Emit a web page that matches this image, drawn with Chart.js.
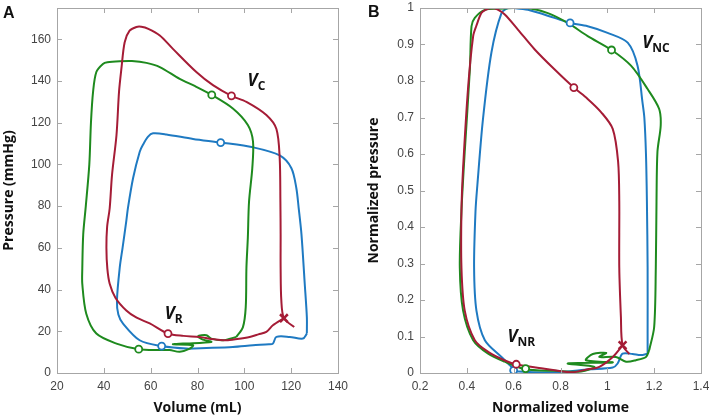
<!DOCTYPE html>
<html>
<head>
<meta charset="utf-8">
<script src="https://cdn.jsdelivr.net/npm/chart.js@4.4.1/dist/chart.umd.min.js"></script>
<style>
  body { margin: 0; background: #fff; }
  #wrap { position: relative; width: 709px; height: 418px; overflow: hidden; }
  canvas { position: absolute; top: 0; }
</style>
</head>
<body>
<div id="wrap">
  <canvas id="chartA" width="355" height="418" style="left:0"></canvas>
  <canvas id="chartB" width="354" height="418" style="left:355px"></canvas>
</div>
<script>
// ---- panel A: pressure (mmHg) vs volume (mL)
const xTicksA = [20, 40, 60, 80, 100, 120, 140];
const yTicksA = [0, 20, 40, 60, 80, 100, 120, 140, 160];

const redVolA = [121.3, 116.9, 115.8, 115.5, 115.5, 115.4, 115.1, 113.7, 109.4, 100.9, 94.5, 86.6, 79.5, 69.5, 63.9, 59, 56, 53.9, 51, 48.9, 47.5, 46.5, 45.4, 43.5, 42.5, 41.4, 41.1, 41.5, 42.5, 45, 49.6, 54, 59.6, 67.4, 74, 80.9, 86, 92.3, 97, 102.3, 106, 109.4, 112.2, 116.9];
const redPresA = [22, 26.3, 34.8, 50, 66.5, 82, 103, 117, 123.7, 130, 132.9, 138, 144.3, 155.4, 161.8, 165, 166, 165.9, 164.1, 158.6, 145.9, 135, 114, 95, 79, 70, 60, 50, 42.8, 36, 30, 26.5, 23.8, 18.9, 17.8, 17.3, 16.3, 15.7, 16.3, 17.3, 18.5, 19.7, 22.9, 26.3];

const greenVolA = [96.6, 99.4, 100.6, 100.9, 101.5, 102, 103.4, 103.7, 101.5, 95.1, 86.1, 79, 72.4, 63.9, 58.2, 52, 46.8, 41.5, 39.6, 36.8, 35.4, 34.5, 33.8, 32.3, 31.2, 30.8, 30.8, 32.5, 36.8, 45.4, 54.9, 63.9, 68.1, 72.4, 76.7, 78.1, 69.5, 73.8, 85.9, 82.3, 80.2, 83.8, 85.9, 90.9, 96.6];
const greenPresA = [17.3, 22, 31.6, 50.6, 65, 82, 98.2, 111, 118.9, 126.8, 133.3, 137.5, 141, 146.7, 148.7, 149.6, 149.5, 149, 148.2, 144.3, 134.8, 120, 100, 80, 66.5, 50, 42.7, 28.4, 18.9, 14.1, 11.4, 11, 11, 10.2, 11.7, 13.3, 13.8, 14.1, 14.9, 16, 17.6, 18.1, 16.5, 15.7, 17.3];

const blueVolA = [126.7, 126.7, 125.8, 124.4, 123.2, 122.2, 120.1, 115.1, 103.7, 89.9, 78.1, 66.7, 61, 58.9, 56.7, 55.3, 52.5, 50.3, 49.6, 48, 46.8, 45.6, 46.2, 48.2, 55.3, 64.7, 75.3, 83.8, 95.1, 103.7, 110.5, 112.2, 113.7, 119.4, 125, 126.7];
const bluePresA = [18.9, 26.8, 42.7, 66.5, 79.2, 88.7, 98.2, 104.3, 108.2, 110.5, 112.2, 114.4, 114.9, 113.3, 109.4, 106, 93.5, 79.2, 72.9, 60, 50.6, 34.8, 28, 23.7, 15.7, 12.9, 11.7, 12, 12.5, 13.3, 13.8, 14.1, 17.3, 17.3, 16.5, 18.9];

const circlesA = {
  red: [[67.4, 18.9], [94.5, 132.9]],
  green: [[86.1, 133.3], [54.9, 11.4]],
  blue: [[89.9, 110.5], [64.7, 12.9]]
};
const crossA = [[116.9, 26.3]];

// ---- panel B: normalized pressure vs normalized volume
const xTicksB = [0.2, 0.4, 0.6, 0.8, 1, 1.2, 1.4];
const yTicksB = [0, 0.1, 0.2, 0.3, 0.4, 0.5, 0.6, 0.7, 0.8, 0.9, 1];

const redVolB = [1.094, 1.065, 1.058, 1.051, 1.051, 1.046, 1.023, 0.973, 0.916, 0.857, 0.774, 0.689, 0.618, 0.562, 0.530, 0.505, 0.48, 0.462, 0.440, 0.427, 0.406, 0.384, 0.377, 0.377, 0.391, 0.434, 0.491, 0.560, 0.609, 0.718, 0.845, 0.916, 0.966, 1.023, 1.065];
const redPresB = [0.052, 0.076, 0.153, 0.289, 0.47, 0.579, 0.669, 0.715, 0.751, 0.782, 0.832, 0.887, 0.941, 0.982, 0.996, 1.0, 0.995, 0.986, 0.95, 0.923, 0.787, 0.561, 0.443, 0.289, 0.171, 0.090, 0.058, 0.035, 0.024, 0.013, 0.002, 0.010, 0.017, 0.044, 0.076];

const greenVolB = [1.179, 1.2, 1.207, 1.21, 1.214, 1.228, 1.221, 1.172, 1.101, 1.018, 0.916, 0.831, 0.746, 0.661, 0.60, 0.54, 0.477, 0.434, 0.420, 0.413, 0.391, 0.377, 0.370, 0.384, 0.427, 0.491, 0.562, 0.650, 0.774, 0.888, 0.945, 0.831, 1.023, 0.909, 0.938, 0.995, 0.966, 1.037, 1.080, 1.122, 1.165, 1.179];
const greenPresB = [0.063, 0.126, 0.289, 0.47, 0.606, 0.679, 0.724, 0.778, 0.842, 0.885, 0.923, 0.959, 0.986, 1.0, 1.0, 0.998, 0.995, 0.973, 0.950, 0.832, 0.606, 0.443, 0.289, 0.171, 0.090, 0.053, 0.031, 0.010, 0.006, 0.004, 0.017, 0.026, 0.029, 0.035, 0.052, 0.055, 0.044, 0.044, 0.031, 0.035, 0.044, 0.063];

const blueVolB = [1.172, 1.172, 1.172, 1.169, 1.165, 1.158, 1.150, 1.129, 1.087, 1.001, 0.916, 0.841, 0.774, 0.661, 0.60, 0.576, 0.548, 0.505, 0.469, 0.445, 0.437, 0.431, 0.441, 0.477, 0.548, 0.590, 0.600, 0.62, 0.774, 0.923, 1.023, 1.044, 1.065, 1.108, 1.143, 1.172];
const bluePresB = [0.053, 0.108, 0.289, 0.47, 0.60, 0.70, 0.742, 0.842, 0.905, 0.932, 0.950, 0.959, 0.973, 0.995, 1.0, 1.0, 0.986, 0.878, 0.696, 0.515, 0.443, 0.289, 0.171, 0.090, 0.044, 0.017, 0.008, 0.004, 0.002, 0.010, 0.015, 0.026, 0.053, 0.052, 0.049, 0.053];

const circlesB = {
  red: [[0.857, 0.782], [0.611, 0.024]],
  green: [[1.018, 0.885], [0.651, 0.012]],
  blue: [[0.841, 0.959], [0.600, 0.007]]
};
const crossB = [[1.065, 0.076]];

const RED = "#a51c36", GREEN = "#1e8a1e", BLUE = "#1f7ac2";
const BOX = "#a6a6a6";

const pts = (xs, ys) => xs.map((x, i) => ({ x: x, y: ys[i] }));
const pairPts = (arr) => arr.map((p) => ({ x: p[0], y: p[1] }));

function loop(xs, ys, color, order) {
  return {
    data: pts(xs, ys), showLine: true, borderColor: color, borderWidth: 2,
    pointRadius: 0, tension: 0.3, order: order
  };
}
function markers(arr, color, style) {
  return {
    data: pairPts(arr), showLine: false, pointStyle: style || "circle",
    pointRadius: style ? 5.5 : 3.5, borderColor: color,
    backgroundColor: "#fff", pointBorderWidth: style ? 2.5 : 1.8, order: 0
  };
}

// box round the plot area with inward tick marks on all four sides
const boxTicks = {
  id: "boxTicks",
  afterDraw(chart) {
    const { ctx, chartArea: a, scales } = chart;
    ctx.save();
    ctx.strokeStyle = BOX;
    ctx.lineWidth = 1;
    ctx.strokeRect(a.left + 0.5, a.top + 0.5, a.right - a.left, a.bottom - a.top);
    scales.x.ticks.forEach((t) => {
      const px = Math.round(scales.x.getPixelForValue(t.value)) + 0.5;
      ctx.beginPath();
      ctx.moveTo(px, a.bottom); ctx.lineTo(px, a.bottom - 5);
      ctx.moveTo(px, a.top); ctx.lineTo(px, a.top + 5);
      ctx.stroke();
    });
    scales.y.ticks.forEach((t) => {
      const py = Math.round(scales.y.getPixelForValue(t.value)) + 0.5;
      ctx.beginPath();
      ctx.moveTo(a.left, py); ctx.lineTo(a.left + 5, py);
      ctx.moveTo(a.right, py); ctx.lineTo(a.right - 5, py);
      ctx.stroke();
    });
    ctx.restore();
  }
};

// V labels with subscripts and the panel letter
const notes = {
  id: "notes",
  afterDraw(chart, args, opts) {
    const { ctx, scales } = chart;
    ctx.save();
    ctx.fillStyle = "#111";
    ctx.textBaseline = "alphabetic";
    opts.labels.forEach((l) => {
      const px = scales.x.getPixelForValue(l.x);
      const py = scales.y.getPixelForValue(l.y);
      ctx.font = 'italic bold 17px "Open Sans"';
      ctx.fillText("V", px, py);
      const w = ctx.measureText("V").width;
      ctx.font = 'bold 12px "Open Sans"';
      ctx.fillText(l.sub, px + w, py + 4);
    });
    ctx.font = 'bold 16px "Liberation Sans"';
    ctx.fillText(opts.letter, opts.lx, opts.ly);
    ctx.restore();
  }
};

function makeChart(id, cfg) {
  return new Chart(document.getElementById(id), {
    type: "scatter",
    data: { datasets: cfg.datasets },
    options: {
      responsive: false,
      animation: false,
      layout: { padding: { top: 5, right: cfg.padRight, left: 0, bottom: 0 } },
      plugins: {
        legend: { display: false },
        tooltip: { enabled: false },
        notes: { labels: cfg.labels, letter: cfg.letter, lx: cfg.lx, ly: cfg.ly }
      },
      scales: {
        x: {
          type: "linear", min: cfg.xMin, max: cfg.xMax,
          grid: { display: false, drawTicks: false },
          border: { display: false },
          afterBuildTicks: (s) => { s.ticks = cfg.xTicks.map((v) => ({ value: v })); },
          afterFit: (s) => { s.height = 45; s.paddingLeft = 0; s.paddingRight = 0; },
          ticks: { padding: 6, color: "#444", font: { family: "Liberation Sans", size: 12 }, maxRotation: 0,
                   callback: (v) => String(v) },
          title: { display: true, text: cfg.xTitle, color: "#111", padding: { top: 0, bottom: 2 },
                   font: { family: "Open Sans", size: 14, weight: "bold" } }
        },
        y: {
          type: "linear", min: cfg.yMin, max: cfg.yMax,
          grid: { display: false, drawTicks: false },
          border: { display: false },
          afterBuildTicks: (s) => { s.ticks = cfg.yTicks.map((v) => ({ value: v })); },
          afterFit: (s) => { s.width = cfg.yWidth; s.paddingTop = 0; s.paddingBottom = 0; },
          ticks: { padding: 6, color: "#444", font: { family: "Liberation Sans", size: 12 },
                   callback: (v) => String(v) },
          title: { display: true, text: cfg.yTitle, color: "#111", padding: { top: cfg.yTitlePad, bottom: 0 },
                   font: { family: "Open Sans", size: 14, weight: "bold" } }
        }
      }
    },
    plugins: [boxTicks, notes]
  });
}

makeChart("chartA", {
  datasets: [
    markers(crossA, RED, "crossRot"),
    markers(circlesA.red, RED), markers(circlesA.green, GREEN), markers(circlesA.blue, BLUE),
    loop(redVolA, redPresA, RED, 1),
    loop(greenVolA, greenPresA, GREEN, 2),
    loop(blueVolA, bluePresA, BLUE, 3)
  ],
  xMin: 20, xMax: 140, yMin: 0, yMax: 175, xTicks: xTicksA, yTicks: yTicksA,
  xTitle: "Volume (mL)", yTitle: "Pressure (mmHg)", yWidth: 57, yTitlePad: 1, padRight: 17,
  labels: [{ x: 101.4, y: 137.6, sub: "C" }, { x: 66, y: 26, sub: "R" }],
  letter: "A", lx: 3, ly: 18
});

makeChart("chartB", {
  datasets: [
    markers(crossB, RED, "crossRot"),
    markers(circlesB.red, RED), markers(circlesB.green, GREEN), markers(circlesB.blue, BLUE),
    loop(redVolB, redPresB, RED, 1),
    loop(greenVolB, greenPresB, GREEN, 2),
    loop(blueVolB, bluePresB, BLUE, 3)
  ],
  xMin: 0.2, xMax: 1.4, yMin: 0, yMax: 1, xTicks: xTicksB, yTicks: yTicksB,
  xTitle: "Normalized volume", yTitle: "Normalized pressure", yWidth: 65, yTitlePad: 11, padRight: 7,
  labels: [{ x: 1.149, y: 0.891, sub: "NC" }, { x: 0.574, y: 0.084, sub: "NR" }],
  letter: "B", lx: 13, ly: 17
});
</script>
</body>
</html>
